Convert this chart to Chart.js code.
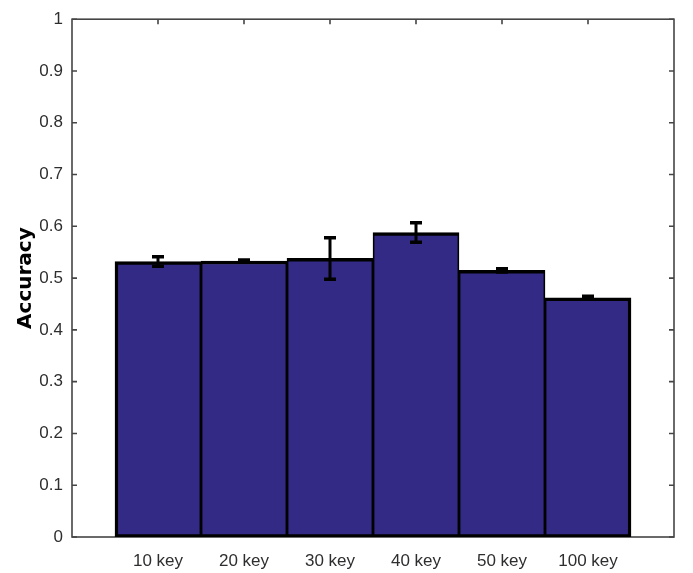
<!DOCTYPE html>
<html>
<head>
<meta charset="utf-8">
<script src="https://cdn.jsdelivr.net/npm/chart.js@4/dist/chart.umd.min.js"></script>
<style>
  html, body { margin: 0; padding: 0; background: #ffffff; }
  #wrap { width: 693px; height: 573px; position: relative; }
</style>
</head>
<body>
<div id="wrap"><canvas id="chart" width="693" height="573"></canvas></div>
<script>
// Mean accuracy per key count, with the spread shown as error bars
const categories = ['10 key', '20 key', '30 key', '40 key', '50 key', '100 key'];
const accuracy   = [0.532, 0.533, 0.538, 0.588, 0.515, 0.462];
const spread     = [0.009, 0.002, 0.040, 0.019, 0.003, 0.003];
const yTickLabels = ['0', '0.1', '0.2', '0.3', '0.4', '0.5', '0.6', '0.7', '0.8', '0.9', '1'];

const axisColor = '#454545';
const barFill = '#332a85';
const tickFont = { family: '"Liberation Sans", Arial, Helvetica, sans-serif', size: 17 };

// Bars sit at x = 1..n on a 0..n+1 axis, each one unit wide
const points = accuracy.map((v, i) => ({ x: i + 1, y: v }));

// Axis box with inward tick marks on all four sides
const boxPlugin = {
  id: 'boxAxes',
  beforeDatasetsDraw(chart) {
    const { ctx, chartArea: a, scales: { x, y } } = chart;
    ctx.save();
    ctx.strokeStyle = axisColor;
    ctx.lineWidth = 1.6;
    ctx.strokeRect(a.left, a.top, a.right - a.left, a.bottom - a.top);
    const len = 5;
    ctx.beginPath();
    yTickLabels.forEach((_, i) => {
      const py = y.getPixelForValue(i / 10);
      ctx.moveTo(a.left, py); ctx.lineTo(a.left + len, py);
      ctx.moveTo(a.right, py); ctx.lineTo(a.right - len, py);
    });
    categories.forEach((_, i) => {
      const px = x.getPixelForValue(i + 1);
      ctx.moveTo(px, a.bottom); ctx.lineTo(px, a.bottom - len);
      ctx.moveTo(px, a.top); ctx.lineTo(px, a.top + len);
    });
    ctx.stroke();
    ctx.restore();
  }
};

// Error bars drawn from the same values as the bars
const errorBarPlugin = {
  id: 'errorBars',
  afterDatasetsDraw(chart) {
    const { ctx, scales: { x, y } } = chart;
    ctx.save();
    ctx.strokeStyle = '#000000';
    ctx.lineCap = 'butt';
    accuracy.forEach((v, i) => {
      const px = x.getPixelForValue(i + 1);
      const top = y.getPixelForValue(v + spread[i]);
      const bot = y.getPixelForValue(v - spread[i]);
      const cap = 6;
      ctx.lineWidth = 3;
      ctx.beginPath();
      ctx.moveTo(px, top); ctx.lineTo(px, bot);
      ctx.stroke();
      ctx.lineWidth = 3.5;
      ctx.beginPath();
      ctx.moveTo(px - cap, top); ctx.lineTo(px + cap, top);
      ctx.moveTo(px - cap, bot); ctx.lineTo(px + cap, bot);
      ctx.stroke();
    });
    ctx.restore();
  }
};

new Chart(document.getElementById('chart'), {
  type: 'bar',
  data: {
    datasets: [{
      data: points,
      backgroundColor: barFill,
      borderColor: '#000000',
      borderWidth: (c) => ({
        top: 3.5,
        bottom: 3,
        left: c.dataIndex === 0 ? 3.5 : 1.75,
        right: c.dataIndex === categories.length - 1 ? 3.5 : 1.75
      }),
      borderSkipped: false,
      barPercentage: 1,
      categoryPercentage: 1
    }]
  },
  options: {
    responsive: false,
    animation: false,
    layout: { padding: { top: 13, right: 19, left: 0, bottom: 0 } },
    plugins: { legend: { display: false }, tooltip: { enabled: false } },
    scales: {
      x: {
        type: 'linear',
        min: 0,
        max: categories.length + 1,
        offset: false,
        grid: { display: false, drawTicks: false },
        border: { display: false },
        ticks: {
          stepSize: 1,
          autoSkip: false,
          maxRotation: 0,
          padding: 14,
          color: '#2e2e2e',
          font: tickFont,
          callback: (v) => categories[v - 1] || ''
        },
        afterFit: (s) => { s.height = 36; }
      },
      y: {
        min: 0,
        max: 1,
        grid: { display: false, drawTicks: false },
        border: { display: false },
        ticks: {
          stepSize: 0.1,
          padding: 9,
          color: '#2e2e2e',
          font: tickFont,
          callback: (v) => yTickLabels[Math.round(v * 10)]
        },
        title: {
          display: true,
          text: 'Accuracy',
          color: '#000000',
          font: { family: '"DejaVu Sans", sans-serif', size: 20, weight: 'bold' },
          padding: { top: 14, bottom: 0 }
        },
        afterFit: (s) => { s.width = 72; }
      }
    }
  },
  plugins: [boxPlugin, errorBarPlugin]
});
</script>
</body>
</html>
